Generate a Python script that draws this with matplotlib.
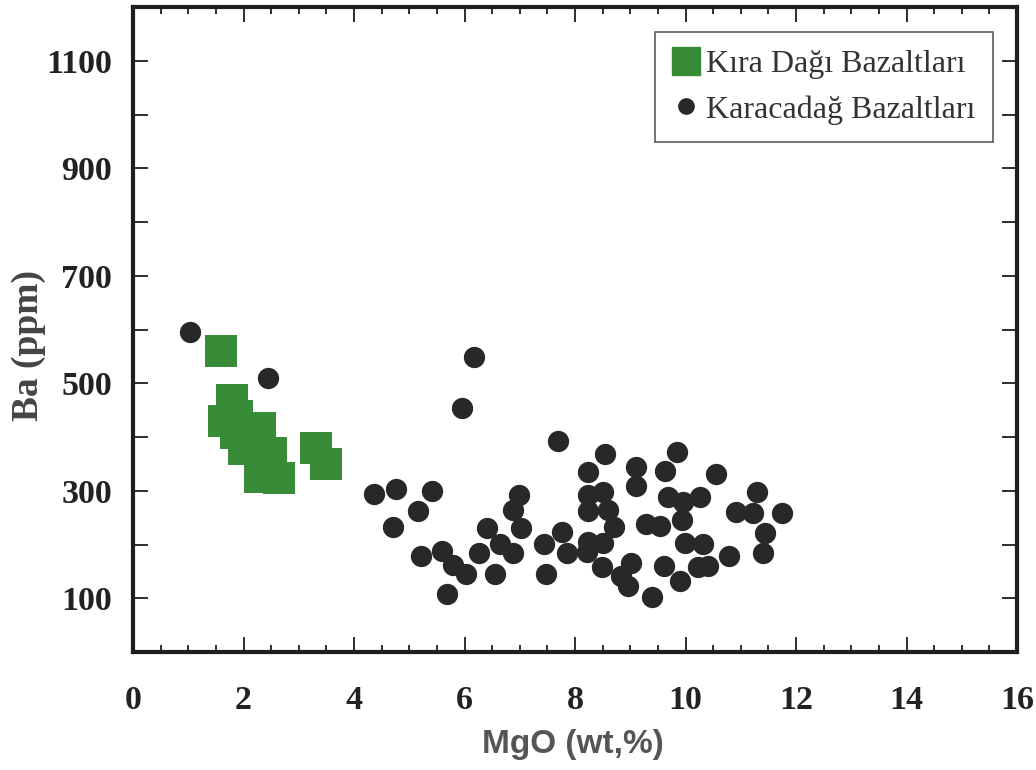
import matplotlib
matplotlib.use('Agg')
import matplotlib.pyplot as plt
from matplotlib.lines import Line2D
from matplotlib.ticker import MultipleLocator

# Kıra Dağı bazaltları (yeşil kareler)
kira_mgo = [1.60, 1.79, 1.65, 1.88, 2.29, 1.86, 2.00, 2.49, 2.29, 2.65, 3.31, 3.49]
kira_ba = [560, 469, 430, 439, 417, 407, 377, 371, 325, 324, 379, 350]

# Karacadağ bazaltları (siyah daireler)
kara_mgo = [1.03, 2.44, 6.17, 5.95, 7.69, 4.36, 4.76, 5.42, 5.15, 4.70,
            5.21, 5.59, 5.80, 6.03, 5.69, 6.27, 6.55, 6.41, 6.65, 6.88,
            6.87, 6.99, 7.03, 7.43, 7.48, 7.76, 7.86, 8.24, 8.24, 8.24,
            8.54, 9.11, 9.11, 9.84, 9.63, 10.55, 8.50, 8.60, 8.71, 8.24,
            8.51, 8.22, 8.48, 9.01, 8.83, 8.95, 9.40, 9.61, 9.90, 9.29,
            9.54, 9.69, 9.96, 10.26, 9.93, 9.99, 10.32, 10.23, 10.41, 10.79,
            10.91, 11.29, 11.23, 11.74, 11.44, 11.40]
kara_ba = [595, 510, 549, 454, 393, 294, 303, 300, 263, 233,
           179, 188, 162, 145, 108, 185, 146, 230, 201, 185,
           265, 292, 230, 201, 145, 224, 185, 335, 292, 262,
           368, 345, 309, 372, 337, 332, 298, 265, 232, 205,
           203, 187, 159, 165, 141, 122, 102, 160, 132, 238,
           234, 289, 280, 289, 246, 203, 201, 159, 160, 179,
           261, 298, 259, 259, 222, 184]

x_ticks = [0, 2, 4, 6, 8, 10, 12, 14, 16]
y_ticks = [100, 200, 300, 400, 500, 600, 700, 800, 900, 1000, 1100]
y_ticklabels = ['100', '', '300', '', '500', '', '700', '', '900', '', '1100']

legend_labels = ['Kıra Dağı Bazaltları', 'Karacadağ Bazaltları']

green = '#388c38'
black = '#2a2826'
serif = 'Liberation Serif'

fig = plt.figure(figsize=(10.36, 7.7), dpi=100)
ax = fig.add_axes([0.1284, 0.1532, 0.8533, 0.8377])

ax.scatter(kara_mgo, kara_ba, s=235, marker='o', color=black, linewidths=0, zorder=3)
ax.scatter(kira_mgo, kira_ba, s=540, marker='s', color=green, linewidths=0, zorder=4)

ax.set_xlim(0, 16)
ax.set_ylim(0, 1200)
ax.set_xticks(x_ticks)
ax.set_xticklabels([str(t) for t in x_ticks])
ax.xaxis.set_minor_locator(MultipleLocator(0.5))
ax.set_yticks(y_ticks)
ax.set_yticklabels(y_ticklabels)

for s in ax.spines.values():
    s.set_linewidth(3)
    s.set_color('#1e1e1e')

ax.tick_params(which='both', direction='in', top=True, right=True, color='#1e1e1e')
ax.tick_params(which='major', length=11, width=1.3)
ax.tick_params(which='minor', length=5, width=1.3)
for lab in ax.get_xticklabels() + ax.get_yticklabels():
    lab.set_fontfamily(serif)
    lab.set_fontweight('bold')
    lab.set_fontsize(24.5)
    lab.set_color('#222222')
ax.tick_params(axis='x', pad=24)
ax.tick_params(axis='y', pad=15)

ax.set_xlabel('MgO (wt,%)', family='Liberation Sans', weight='bold', fontsize=24, color='#555555')
ax.xaxis.set_label_coords(0.497, -0.12)
ax.set_ylabel('Ba (ppm)', family=serif, weight='bold', fontsize=27, color='#444444')
ax.yaxis.set_label_coords(-0.098, 0.475)

handles = [Line2D([], [], marker='s', linestyle='none', color=green, markersize=20),
           Line2D([], [], marker='o', linestyle='none', color=black, markersize=11)]
leg = ax.legend(handles, legend_labels, loc='upper right', bbox_to_anchor=(0.973, 0.961),
                borderaxespad=0, fancybox=False, handlelength=0.85, handletextpad=0.2,
                borderpad=0.55, labelspacing=0.5,
                prop={'family': serif, 'size': 23})
leg.get_frame().set_edgecolor('#333333')
leg.get_frame().set_linewidth(1.2)
for t in leg.get_texts():
    t.set_color('#333333')

fig.savefig('out.png', dpi=100)
